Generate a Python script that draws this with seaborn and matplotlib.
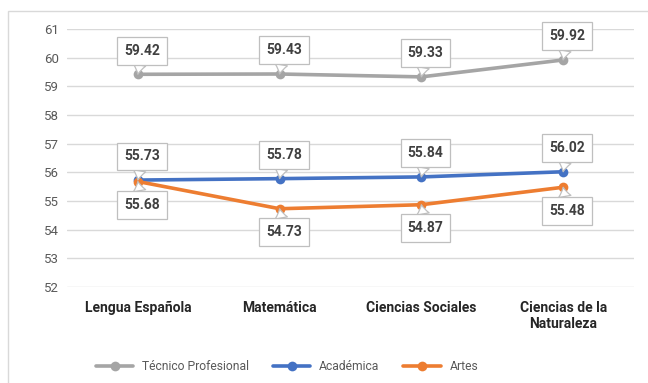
"""Line chart of average scores by subject and track."""

import matplotlib

matplotlib.use("Agg")
import matplotlib.pyplot as plt
import pandas as pd
import seaborn as sns
from matplotlib.patches import Rectangle

SUBJECTS = ["Lengua Española", "Matemática", "Ciencias Sociales", "Ciencias de la\nNaturaleza"]
TECNICO = [59.42, 59.43, 59.33, 59.92]
ACADEMICA = [55.73, 55.78, 55.84, 56.02]
ARTES = [55.68, 54.73, 54.87, 55.48]
SERIES = ["Técnico Profesional", "Académica", "Artes"]
Y_TICKS = [52, 53, 54, 55, 56, 57, 58, 59, 60, 61]

PALETTE = {"Técnico Profesional": "#A5A5A5", "Académica": "#4472C4", "Artes": "#ED7D31"}
# label above (+1) or below (-1) the point
LABEL_SIDE = {"Técnico Profesional": [1, 1, 1, 1], "Académica": [1, 1, 1, 1], "Artes": [-1, -1, -1, -1]}

sns.set_theme(style="white")
plt.rcParams["font.family"] = ["Roboto", "DejaVu Sans"]

data = pd.DataFrame(
    {
        "subject": SUBJECTS * 3,
        "score": TECNICO + ACADEMICA + ARTES,
        "series": [s for s in SERIES for _ in SUBJECTS],
    }
)

fig = plt.figure(figsize=(6.48, 3.83), dpi=100)
ax = fig.add_axes([67 / 648, 1 - 287 / 383, (634 - 67) / 648, (287 - 29) / 383])

fig.patches.append(
    Rectangle((8 / 648, -0.05), 1.0, 1 - 11 / 383 + 0.05, transform=fig.transFigure,
              facecolor="none", edgecolor="#D9D9D9", linewidth=1.0)
)

sns.lineplot(
    data=data, x="subject", y="score", hue="series", hue_order=SERIES, palette=PALETTE,
    marker="o", markersize=7, markeredgewidth=0, linewidth=2.6, sort=False, ax=ax,
)

for name, values in zip(SERIES, [TECNICO, ACADEMICA, ARTES]):
    for i, v in enumerate(values):
        side = LABEL_SIDE[name][i]
        ax.annotate(
            f"{v:.2f}", xy=(i, v), xytext=(3, 17 * side), textcoords="offset points",
            ha="center", va="center", fontsize=10, fontweight="bold", color="#404040",
            bbox=dict(boxstyle="square,pad=0.5", facecolor="white", edgecolor="#BFBFBF", linewidth=0.9),
            arrowprops=dict(arrowstyle="wedge,tail_width=0.9,shrink_factor=0.4", facecolor="white",
                            edgecolor="#BFBFBF", linewidth=0.9, shrinkA=0, shrinkB=0),
            zorder=5,
        )

ax.set_ylim(52, 61)
ax.set_xlim(-0.5, 3.5)
ax.set_yticks(Y_TICKS)
ax.grid(axis="y", color="#D9D9D9", linewidth=1.0)
ax.set_axisbelow(True)
sns.despine(ax=ax, left=True, bottom=True)
ax.tick_params(axis="y", labelsize=9.5, labelcolor="#595959", length=0, pad=6)
ax.tick_params(axis="x", length=0, pad=10)
ax.set_xticks(range(len(SUBJECTS)))
ax.set_xticklabels(SUBJECTS, fontsize=10, fontweight="bold", color="#262626")
ax.set(xlabel="", ylabel="")

handles, labels = ax.get_legend_handles_labels()
ax.get_legend().remove()
fig.legend(
    handles, labels, loc="center", bbox_to_anchor=(287 / 648, 1 - 367 / 383), ncol=3,
    frameon=False, fontsize=8.7, labelcolor="#595959", handlelength=3.1, columnspacing=2.0,
    handletextpad=0.7,
)

fig.savefig("out.png", dpi=100)
